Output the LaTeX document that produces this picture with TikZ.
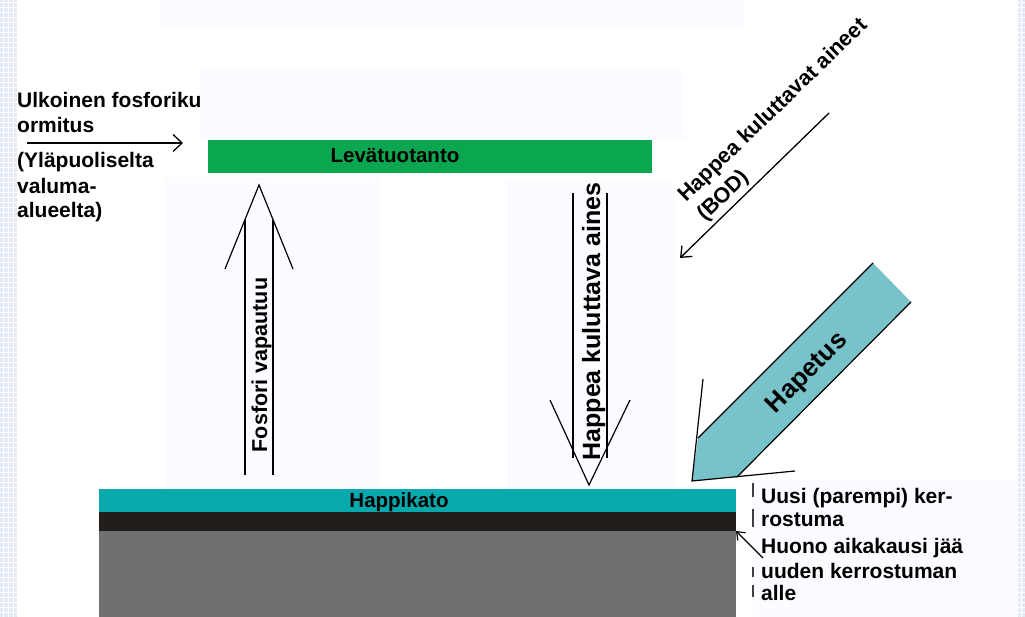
\documentclass[tikz,border=0pt]{standalone}
\usepackage{fontspec}
\setmainfont{Liberation Sans}
\usetikzlibrary{arrows.meta}
\definecolor{algae}{RGB}{11,166,80}
\definecolor{oxyteal}{RGB}{8,169,173}
\definecolor{hapteal}{RGB}{120,195,202}
\definecolor{sedblack}{RGB}{34,30,28}
\definecolor{sedgray}{RGB}{112,112,112}
\definecolor{faint}{RGB}{251,252,255}
\definecolor{gridblue}{RGB}{226,234,247}
\begin{document}
\begin{tikzpicture}[x=1pt,y=-1pt,
  lbl/.style={inner sep=0pt, font=\bfseries\fontsize{21}{24}\selectfont},
  layer/.style={inner sep=0pt, outer sep=0pt, draw=none, anchor=north west, minimum width=637pt},
  outl/.style={line width=1.2pt, black},
  barb/.style={line width=1.3pt, black, -{Straight Barb[length=9pt,width=17pt]}},
  tick/.style={line width=1.2pt, black!75},
  faintbox/.style={fill=faint, draw=none}]
\useasboundingbox (0,0) rectangle (1025,617);
\fill[white] (0,0) rectangle (1025,617);
% side grid strips
\fill[gridblue] (0,0) rectangle (17,617);
\fill[gridblue] (1018,0) rectangle (1025,617);
\foreach \yy in {2,7,...,617} {
  \draw[white, line width=0.7pt] (0,\yy) -- (17,\yy);
  \draw[white, line width=0.7pt] (1018,\yy) -- (1025,\yy);
}
\foreach \xx in {3,8,13,1021} \draw[white, line width=0.7pt] (\xx,0) -- (\xx,617);
% faint panels
\fill[faintbox] (160,0) rectangle (745,26);
\fill[faintbox] (163,177) rectangle (380,489);
\fill[faintbox] (506,180) rectangle (675,489);
\fill[faintbox] (753,480) rectangle (1018,617);

% left texts
\node[lbl, anchor=base west] (ext1) at (17,108) {Ulkoinen fosforiku};
\fill[faintbox] (200,70) rectangle (685,140);
\node[lbl, anchor=base west] (ext2) at (17,133) {ormitus};
\node[lbl, anchor=base west] (ext3) at (17,168) {(Yläpuoliselta};
\node[lbl, anchor=base west] (ext4) at (17,194) {valuma-};
\node[lbl, anchor=base west] (ext5) at (17,218) {alueelta)};
\coordinate (extS) at (27,143);
\coordinate (extE) at (183,143);
\draw[barb] (extS) -- (extE);

% algae bar
\node[inner sep=0pt, fill=algae, minimum width=444pt, minimum height=33pt] (lev) at (430,156.5) {};
\node[lbl, anchor=base, font=\bfseries\fontsize{20.5}{24}\selectfont] (levlbl) at (395,163) {Levätuotanto};

% sediment layers
\node[layer, fill=sedgray, minimum height=86pt] (old) at (99,531) {};
\node[layer, fill=sedblack, minimum height=19pt] (poor) at (99,512) {};
\node[layer, fill=oxyteal, minimum height=23pt] (oxy) at (99,489) {};
\node[lbl, anchor=base, font=\bfseries\fontsize{20.5}{24}\selectfont] (oxylbl) at (399,507) {Happikato};

% up arrow (phosphorus release)
\coordinate (upTip) at (259,185);
\coordinate (upWL) at (225,269);
\coordinate (upWR) at (293,269);
\coordinate (upL1) at (245,220);
\coordinate (upL2) at (245,475);
\coordinate (upR1) at (273,220);
\coordinate (upR2) at (273,475);
\draw[outl] (upWL) -- (upTip) -- (upWR);
\draw[outl] (upL1) -- (upL2);
\draw[outl] (upR1) -- (upR2);
\node[lbl, rotate=90, anchor=base, font=\bfseries\fontsize{21.5}{24}\selectfont] (fosfori) at (267,365) {Fosfori vapautuu};

% down arrow (oxygen consuming matter)
\coordinate (dnTip) at (589,485);
\coordinate (dnWL) at (550,400);
\coordinate (dnWR) at (630,400);
\coordinate (dnL1) at (573,193);
\coordinate (dnL2) at (573,458);
\coordinate (dnR1) at (607,193);
\coordinate (dnR2) at (607,458);
\draw[outl] (dnWL) -- (dnTip) -- (dnWR);
\draw[outl] (dnL1) -- (dnL2);
\draw[outl] (dnR1) -- (dnR2);
\node[lbl, rotate=90, anchor=base, font=\bfseries\fontsize{25}{28}\selectfont] (aines) at (600,321.5) {Happea kuluttava aines};

% BOD arrow
\coordinate (bodS) at (829,113);
\coordinate (bodE) at (680,258);
\draw[line width=1.3pt, black, -{Straight Barb[length=9pt,width=15pt]}] (bodS) -- (bodE);
\node[lbl, rotate=44, anchor=base west, font=\bfseries\fontsize{21.5}{26}\selectfont] (bod1) at (686,203) {Happea kuluttavat aineet};
\node[lbl, rotate=44, anchor=base west, font=\bfseries\fontsize{21.5}{26}\selectfont] (bod2) at (705,222) {(BOD)};

% Hapetus arrow
\coordinate (hA) at (873,263);
\coordinate (hB) at (911,302);
\coordinate (hC) at (737,477);
\coordinate (hTip) at (692,481);
\coordinate (hD) at (698,438);
\coordinate (hWU) at (703,379);
\coordinate (hWL) at (795,471);
\fill[hapteal] (hA) -- (hB) -- (hC) -- (hTip) -- (hD) -- cycle;
\draw[outl] (hA) -- (hD);
\draw[outl] (hB) -- (hC);
\draw[outl] (hWU) -- (hTip) -- (hWL);
\node[lbl, rotate=45, anchor=base, font=\bfseries\fontsize{26}{28}\selectfont] (hapetus) at (812,378) {Hapetus};

% right side texts
\draw[tick] (753,483) -- (753,497);
\draw[tick] (753,509) -- (753,527);
\draw[tick] (753,567) -- (753,577);
\draw[tick] (753,585) -- (753,597);
\node[lbl, anchor=base west] (new1) at (761,503) {Uusi (parempi) ker-};
\node[lbl, anchor=base west] (new2) at (761,526) {rostuma};
\node[lbl, anchor=base west] (bad1) at (761,553) {Huono aikakausi jää};
\node[lbl, anchor=base west] (bad2) at (761,578) {uuden kerrostuman};
\node[lbl, anchor=base west] (bad3) at (761,600) {alle};
\coordinate (hS) at (763,558);
\draw[line width=1.2pt, black, -{Straight Barb[length=7pt,width=11pt]}] (hS) -- (old.north east);
\end{tikzpicture}
\end{document}
